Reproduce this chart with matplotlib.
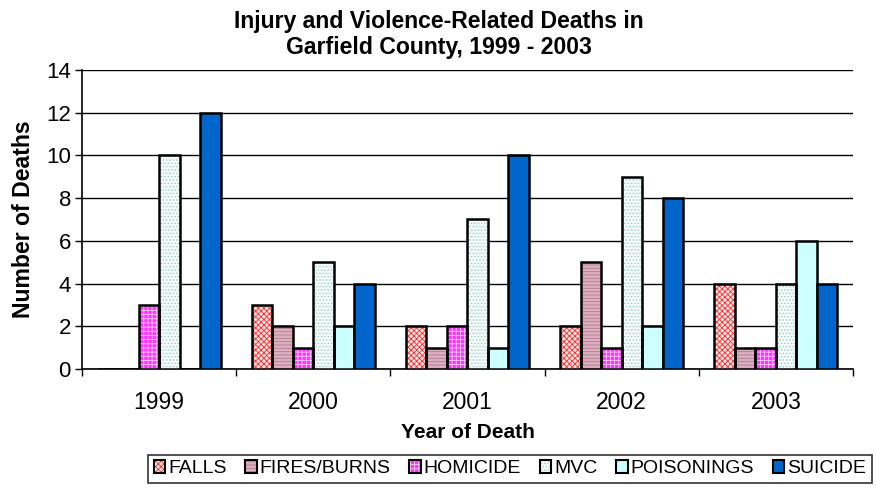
import numpy as np
import matplotlib
matplotlib.use("Agg")
import matplotlib.pyplot as plt
from matplotlib.patches import Patch

plt.rcParams['font.family'] = ['Liberation Sans', 'DejaVu Sans']
plt.rcParams['hatch.linewidth'] = 0.6

years = ["1999", "2000", "2001", "2002", "2003"]
causes = ["FALLS", "FIRES/BURNS", "HOMICIDE", "MVC", "POISONINGS", "SUICIDE"]
falls = [0, 3, 2, 2, 4]
fires_burns = [0, 2, 1, 5, 1]
homicide = [3, 1, 2, 1, 1]
mvc = [10, 5, 7, 9, 4]
poisonings = [0, 2, 1, 2, 6]
suicide = [12, 4, 10, 8, 4]
series = [falls, fires_burns, homicide, mvc, poisonings, suicide]

# (face colour, hatch pattern, hatch colour) for each cause
styles = [
    ("#FFE0E0", "xxxxxx", "#F03030"),
    ("#DDB0C0", "-----", "#B07890"),
    ("#FF33FF", "++++", "#FFC8FF"),
    ("#F4FAF9", ".....", "#9CCCC4"),
    ("#CCFFFF", None, None),
    ("#0066CC", None, None),
]

fig = plt.figure(figsize=(8.76, 4.88), dpi=100)
ax = fig.add_axes([0.0936, 0.2439, 0.9737 - 0.0936, 0.8566 - 0.2439])

x = np.arange(len(years))
width = 0.133
offsets = (np.arange(len(causes)) - (len(causes) - 1) / 2) * width

handles = []
for vals, off, (fc, hatch, hc), name in zip(series, offsets, styles, causes):
    pos = x + off
    if hatch:
        ax.bar(pos, vals, width, color=fc, hatch=hatch, edgecolor=hc,
               linewidth=0, zorder=3)
        ax.bar(pos, vals, width, fill=False, edgecolor="black",
               linewidth=1.8, zorder=4)
        h = (Patch(facecolor=fc, hatch=hatch, edgecolor=hc, linewidth=0),
             Patch(fill=False, edgecolor="black", linewidth=1.5))
    else:
        ax.bar(pos, vals, width, color=fc, edgecolor="black",
               linewidth=1.8, zorder=3)
        h = Patch(facecolor=fc, edgecolor="black", linewidth=1.5)
    handles.append(h)

ax.set_xlim(-0.5, len(years) - 0.5)
ax.set_ylim(0, 14)
ax.set_yticks(range(0, 15, 2))
ax.set_xticks(x)
ax.set_xticklabels(years, fontsize=16.5)
ax.set_xticks(np.arange(len(years) + 1) - 0.5, minor=True)
ax.tick_params(axis='x', which='major', length=0, pad=16)
ax.tick_params(axis='x', which='minor', length=5, width=1, direction='out')
ax.tick_params(axis='y', labelsize=16, length=5, width=1, direction='out', pad=3)

ax.yaxis.grid(True, color="black", linewidth=1.0, zorder=0)
ax.set_axisbelow(True)
for s in ("top", "right"):
    ax.spines[s].set_visible(False)
ax.spines["left"].set_linewidth(1.2)
ax.spines["bottom"].set_linewidth(1.2)

ax.set_ylabel("Number of Deaths", fontsize=16.6, fontweight="bold", labelpad=8)
ax.set_xlabel("Year of Death", fontsize=15, fontweight="bold", labelpad=6)

fig.suptitle("Injury and Violence-Related Deaths in\nGarfield County, 1999 - 2003",
             fontsize=16.6, fontweight="bold", x=0.501, y=0.929, va="center",
             linespacing=1.14)

leg = fig.legend(handles, causes, loc="center", bbox_to_anchor=(0.582, 0.039),
                 ncol=6, fontsize=14, frameon=True, fancybox=False,
                 edgecolor="black", handlelength=0.6, handleheight=0.6,
                 handletextpad=0.15, columnspacing=0.95, borderpad=0.3)
leg.get_frame().set_linewidth(1.2)

fig.savefig("out.png", dpi=100)
